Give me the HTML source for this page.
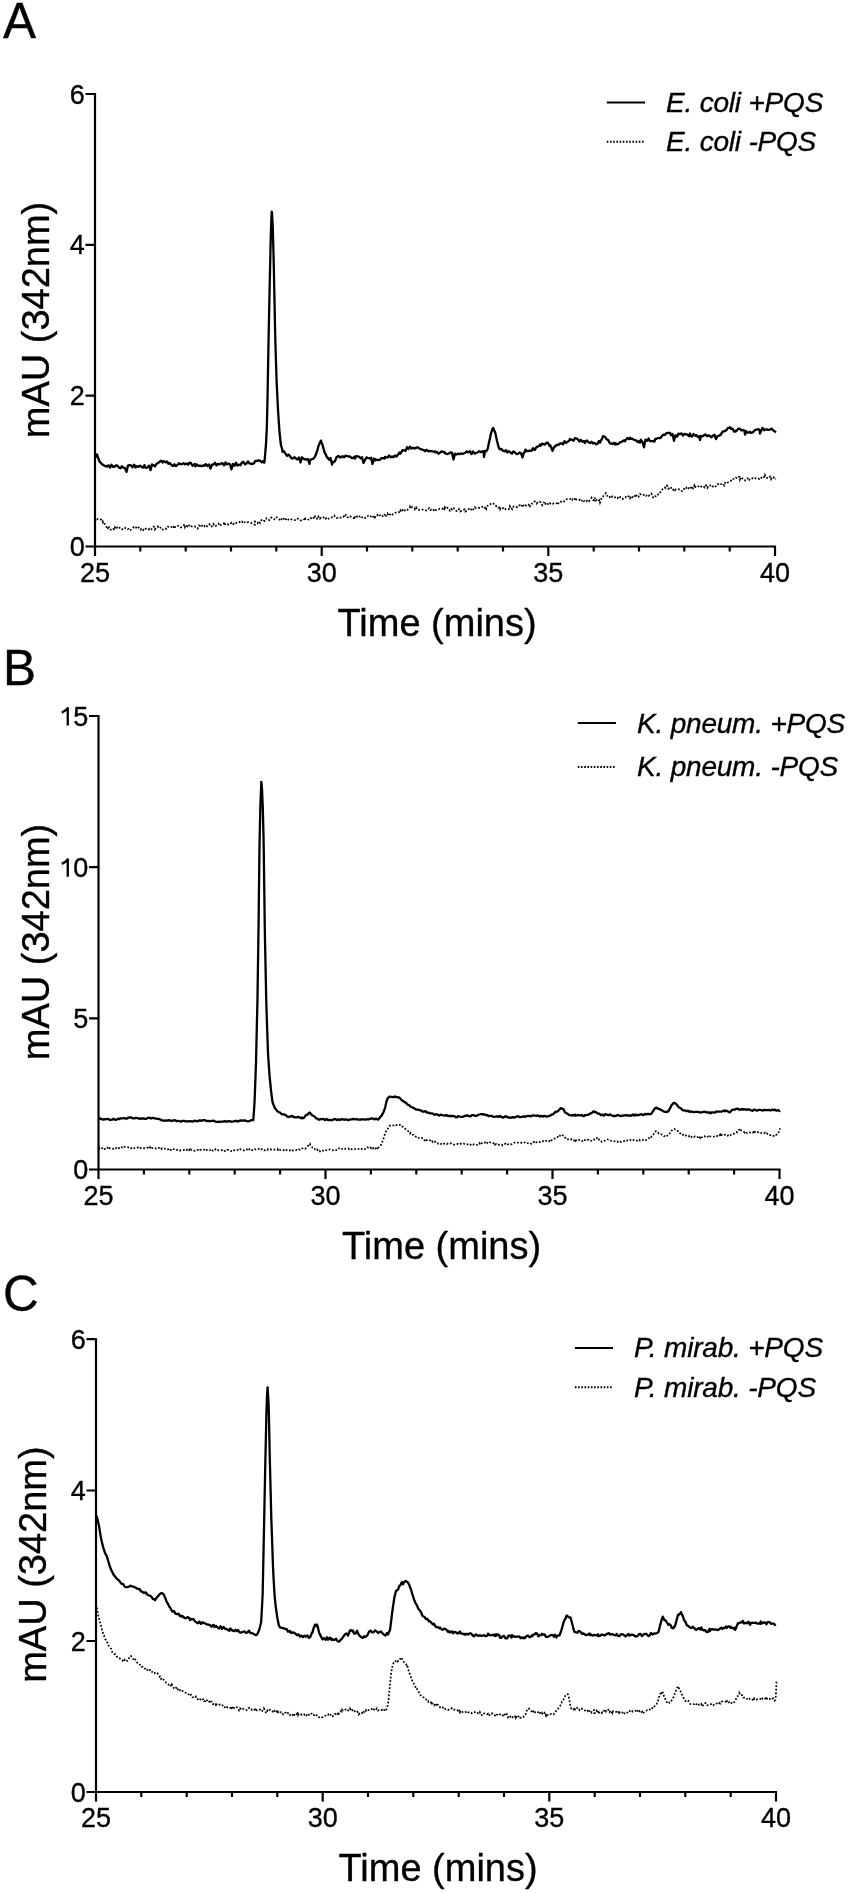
<!DOCTYPE html>
<html><head><meta charset="utf-8"><style>html,body{margin:0;padding:0;background:#fff}svg{display:block;will-change:transform} text{stroke:#000;stroke-width:0.35px}</style></head>
<body><svg width="850" height="1893" viewBox="0 0 850 1893" font-family="'Liberation Sans', sans-serif" fill="#000">
<text x="3" y="37.8" font-size="49.5">A</text>
<path d="M95,93 V547.5 M94,546.5 H776" stroke="#000" stroke-width="2.2" fill="none"/>
<path d="M85.5,546.5 H95 M85.5,395.7 H95 M85.5,244.8 H95 M85.5,94 H95 M95.0,546.5 V556.0 M140.3,546.5 V551.5 M185.7,546.5 V551.5 M231.0,546.5 V551.5 M276.3,546.5 V551.5 M321.7,546.5 V556.0 M367.0,546.5 V551.5 M412.3,546.5 V551.5 M457.7,546.5 V551.5 M503.0,546.5 V551.5 M548.3,546.5 V556.0 M593.7,546.5 V551.5 M639.0,546.5 V551.5 M684.3,546.5 V551.5 M729.7,546.5 V551.5 M775.0,546.5 V556.0" stroke="#000" stroke-width="2.2" fill="none"/>
<text x="84.7" y="556.1" font-size="27" text-anchor="end">0</text>
<text x="84.7" y="405.3" font-size="27" text-anchor="end">2</text>
<text x="84.7" y="254.4" font-size="27" text-anchor="end">4</text>
<text x="84.7" y="103.6" font-size="27" text-anchor="end">6</text>
<text x="95.0" y="581.5" font-size="27" text-anchor="middle">25</text>
<text x="321.7" y="581.5" font-size="27" text-anchor="middle">30</text>
<text x="548.3" y="581.5" font-size="27" text-anchor="middle">35</text>
<text x="775.0" y="581.5" font-size="27" text-anchor="middle">40</text>
<text x="337.5" y="636" font-size="38">Time (mins)</text>
<text transform="translate(48.5,320) rotate(-90)" font-size="38" text-anchor="middle">mAU (342nm)</text>
<path d="M606.8,102.6 H645" stroke="#000" stroke-width="2"/>
<path d="M606.8,141.8 H645" stroke="#000" stroke-width="2" stroke-dasharray="1.6 1.6"/>
<text x="666" y="112.1" font-size="28" letter-spacing="-0.2" font-style="italic">E. coli +PQS</text>
<text x="666" y="151.3" font-size="28" letter-spacing="-0.2" font-style="italic">E. coli -PQS</text>
<path d="M95.0,456.8 L96.5,456.7 L97.0,454.4 L98.0,457.4 L99.5,461.7 L100.0,461.9 L101.0,463.1 L102.5,464.6 L104.0,465.5 L105.0,466.1 L105.5,465.8 L107.0,466.7 L108.5,465.3 L110.0,467.5 L111.5,464.8 L113.0,466.9 L114.5,466.1 L115.0,466.6 L116.0,465.3 L117.5,465.6 L119.0,467.6 L120.5,468.3 L122.0,466.3 L123.5,467.6 L125.0,468.2 L126.5,471.9 L128.0,465.5 L129.5,465.1 L131.0,465.3 L132.5,467.4 L134.0,464.7 L135.0,465.7 L135.5,467.5 L137.0,466.2 L138.5,466.8 L140.0,465.7 L141.5,467.0 L143.0,467.6 L144.5,465.1 L145.0,467.4 L146.0,468.1 L147.5,467.3 L149.0,465.6 L150.5,470.1 L152.0,464.4 L153.5,465.2 L155.0,466.3 L156.5,463.8 L158.0,463.1 L159.5,461.8 L161.0,460.8 L162.5,462.6 L163.0,461.1 L164.0,461.3 L165.5,462.4 L167.0,461.5 L168.5,463.8 L170.0,463.1 L171.5,465.1 L173.0,466.0 L174.5,464.3 L175.0,465.3 L176.0,466.1 L177.5,464.9 L179.0,463.2 L180.5,464.2 L182.0,464.1 L183.5,463.2 L185.0,464.4 L186.5,463.4 L188.0,464.7 L189.5,462.7 L191.0,463.1 L192.5,465.7 L194.0,464.6 L195.0,463.9 L195.5,466.4 L197.0,464.5 L198.5,465.8 L200.0,465.7 L201.5,466.2 L203.0,465.4 L204.5,465.8 L205.0,464.5 L206.0,464.2 L207.5,466.1 L209.0,464.4 L210.5,468.5 L212.0,464.7 L213.5,464.5 L215.0,462.8 L216.5,465.4 L218.0,463.8 L219.5,464.3 L221.0,463.7 L222.5,463.2 L224.0,465.3 L225.0,464.2 L225.5,462.4 L227.0,464.4 L228.5,463.6 L230.0,464.3 L231.5,469.3 L233.0,463.9 L234.5,465.7 L235.0,464.8 L236.0,462.8 L237.5,465.6 L239.0,464.6 L240.5,465.3 L242.0,462.3 L243.5,462.0 L245.0,464.4 L246.5,463.6 L248.0,461.5 L249.5,463.6 L251.0,463.6 L252.5,464.1 L254.0,463.3 L255.0,461.4 L255.5,461.0 L257.0,460.8 L258.5,460.4 L260.0,460.6 L261.5,462.3 L263.0,461.1 L264.2,462.7 L264.5,461.9 L266.0,444.2 L266.8,428.0 L267.5,399.5 L268.5,342.7 L269.0,318.3 L270.0,271.3 L270.5,248.2 L271.0,228.5 L271.7,211.7 L272.0,212.6 L272.8,228.5 L273.5,253.7 L273.9,271.3 L275.0,325.5 L275.4,342.7 L276.5,378.1 L276.8,385.5 L278.0,409.8 L279.2,428.0 L279.5,431.7 L280.6,442.5 L281.0,445.3 L282.0,448.8 L282.5,451.8 L284.0,451.2 L285.0,453.2 L285.5,453.6 L287.0,455.9 L288.5,454.6 L290.0,456.3 L291.5,458.2 L293.0,458.5 L294.5,457.1 L295.0,458.0 L296.0,458.5 L297.5,459.4 L299.0,457.4 L300.5,462.5 L302.0,457.3 L303.5,458.8 L305.0,459.3 L306.5,459.5 L308.0,459.1 L309.5,463.9 L310.0,460.3 L311.0,459.4 L312.5,459.0 L314.0,458.2 L315.5,455.5 L316.5,452.7 L317.0,451.5 L318.5,445.9 L320.0,442.4 L321.0,440.6 L321.5,442.5 L322.5,444.7 L323.0,446.6 L324.5,452.3 L326.0,455.0 L327.0,457.4 L327.5,457.5 L329.0,459.7 L330.0,458.3 L330.5,458.1 L332.0,464.6 L333.0,461.9 L333.5,462.2 L335.0,461.2 L336.5,457.2 L338.0,456.2 L339.5,456.4 L340.0,457.4 L341.0,457.4 L342.5,456.2 L344.0,457.3 L345.0,456.5 L345.5,455.7 L347.0,456.0 L348.5,456.5 L350.0,456.5 L351.5,457.9 L353.0,458.1 L354.5,456.6 L355.0,458.5 L356.0,456.1 L357.5,456.3 L359.0,456.7 L360.5,458.3 L362.0,457.1 L363.5,463.0 L365.0,460.0 L366.5,457.4 L368.0,458.0 L369.5,458.5 L371.0,457.8 L372.5,464.0 L374.0,458.5 L375.0,460.4 L375.5,459.3 L377.0,460.1 L378.5,459.8 L380.0,459.8 L381.5,458.1 L383.0,458.1 L384.5,458.6 L385.0,456.9 L386.0,457.4 L387.5,457.6 L389.0,455.5 L390.5,457.2 L392.0,456.4 L393.5,457.3 L395.0,455.4 L396.5,456.6 L398.0,454.6 L399.5,452.4 L400.0,453.9 L401.0,452.7 L402.5,450.1 L404.0,450.4 L405.0,450.6 L405.5,450.9 L407.0,447.1 L408.5,449.0 L410.0,446.6 L411.5,448.6 L413.0,447.7 L414.5,448.6 L415.0,447.8 L416.0,448.1 L417.5,447.1 L419.0,448.2 L420.0,448.8 L420.5,449.2 L422.0,449.5 L423.5,450.0 L425.0,451.2 L426.5,449.8 L428.0,451.3 L429.5,451.0 L431.0,451.1 L432.5,451.4 L434.0,451.6 L435.0,451.4 L435.5,452.4 L437.0,451.9 L438.5,453.7 L440.0,452.8 L441.5,451.3 L443.0,452.1 L444.5,451.9 L445.0,453.4 L446.0,453.7 L447.5,454.0 L449.0,453.4 L450.5,452.4 L452.0,452.6 L453.5,459.5 L455.0,453.7 L456.5,454.5 L458.0,453.7 L459.5,454.2 L461.0,453.4 L462.5,454.0 L464.0,453.3 L465.0,452.9 L465.5,452.5 L467.0,451.5 L468.5,452.4 L470.0,451.3 L471.5,454.1 L473.0,451.5 L474.5,453.4 L475.0,453.6 L476.0,453.0 L477.5,452.5 L479.0,451.2 L480.5,452.1 L482.0,451.7 L483.5,451.2 L484.0,457.0 L485.0,451.0 L486.5,451.0 L487.5,449.3 L488.0,447.2 L489.5,440.3 L490.0,438.0 L491.0,433.3 L492.0,430.5 L492.5,428.6 L493.3,428.0 L494.0,430.1 L495.0,431.9 L495.5,433.8 L497.0,441.0 L498.5,446.7 L499.5,449.0 L500.0,449.3 L501.5,449.0 L503.0,450.9 L504.5,451.0 L505.0,451.5 L506.0,450.1 L507.5,452.5 L509.0,451.2 L510.5,452.5 L512.0,453.6 L513.5,451.4 L515.0,452.4 L516.5,454.1 L518.0,453.8 L519.5,452.5 L521.0,453.2 L522.5,457.5 L524.0,452.3 L525.0,452.1 L525.5,449.6 L527.0,451.1 L528.5,451.1 L530.0,450.5 L531.5,450.9 L533.0,448.1 L534.5,450.0 L535.0,449.7 L536.0,447.7 L537.5,446.5 L539.0,446.1 L540.0,444.5 L540.5,445.7 L542.0,443.7 L543.5,444.2 L545.0,444.6 L546.5,442.7 L548.0,443.0 L549.5,446.1 L550.0,445.1 L551.0,446.8 L552.5,450.8 L554.0,447.5 L555.0,446.1 L555.5,446.1 L557.0,444.6 L558.5,445.0 L560.0,443.5 L561.5,443.3 L563.0,444.3 L564.5,441.2 L565.0,442.0 L566.0,443.0 L567.5,441.7 L569.0,441.0 L570.0,439.0 L570.5,439.7 L572.0,439.7 L573.5,440.7 L575.0,438.1 L576.5,438.5 L578.0,439.4 L579.5,441.6 L580.0,440.9 L581.0,439.9 L582.5,441.7 L584.0,441.0 L585.0,443.0 L585.5,441.4 L587.0,440.5 L588.5,442.3 L590.0,443.1 L591.5,441.8 L593.0,443.4 L594.5,443.0 L595.0,443.1 L596.0,444.4 L597.5,443.7 L599.0,440.9 L600.0,442.7 L600.5,441.4 L602.0,438.9 L603.0,436.1 L603.5,436.4 L605.0,436.8 L606.5,439.2 L608.0,439.9 L609.5,442.6 L610.0,443.4 L611.0,443.3 L612.5,444.0 L614.0,442.8 L615.0,444.5 L615.5,443.2 L617.0,444.4 L618.5,443.8 L620.0,442.3 L621.5,441.8 L623.0,440.9 L624.5,440.2 L625.0,441.2 L626.0,439.5 L627.5,438.0 L629.0,439.2 L630.0,437.8 L630.5,438.9 L632.0,438.6 L633.5,439.5 L635.0,440.2 L636.5,440.6 L638.0,442.1 L639.5,441.0 L640.0,442.6 L641.0,439.8 L642.5,442.2 L644.0,447.3 L645.0,441.7 L645.5,439.7 L647.0,440.9 L648.5,438.5 L650.0,441.2 L651.5,441.2 L653.0,441.1 L654.5,441.6 L655.0,439.2 L656.0,439.0 L657.5,438.2 L659.0,438.1 L660.0,438.2 L660.5,438.0 L662.0,435.9 L663.5,434.7 L665.0,434.8 L666.5,433.2 L668.0,432.9 L669.5,432.9 L670.0,432.8 L671.0,435.3 L672.5,434.0 L674.0,440.8 L675.0,437.0 L675.5,435.3 L677.0,436.8 L678.5,433.7 L680.0,434.1 L681.5,433.4 L683.0,435.5 L684.5,433.9 L686.0,434.3 L687.5,434.7 L689.0,436.3 L690.0,433.5 L690.5,435.7 L692.0,436.5 L693.5,433.9 L695.0,435.7 L696.5,435.2 L698.0,437.1 L699.5,436.2 L700.0,440.0 L701.0,435.8 L702.5,436.4 L704.0,435.3 L705.5,434.4 L707.0,436.2 L708.5,435.4 L710.0,436.1 L711.5,437.3 L713.0,435.5 L714.5,434.7 L716.0,439.1 L717.5,436.1 L719.0,435.7 L720.0,435.1 L720.5,435.2 L722.0,432.4 L723.5,431.3 L725.0,431.0 L726.5,430.0 L728.0,427.9 L729.5,427.9 L730.0,427.2 L731.0,428.8 L732.5,428.7 L734.0,431.6 L735.0,430.6 L735.5,431.6 L737.0,430.3 L738.5,428.6 L740.0,428.8 L741.5,430.4 L743.0,430.2 L744.5,430.7 L745.0,434.7 L746.0,431.1 L747.5,432.7 L749.0,432.4 L750.0,431.7 L750.5,432.9 L752.0,432.7 L753.5,431.7 L755.0,429.9 L756.5,429.8 L758.0,429.1 L759.5,429.7 L760.0,433.7 L761.0,430.9 L762.5,427.9 L764.0,430.2 L765.0,429.5 L765.5,429.7 L767.0,429.3 L768.5,429.8 L770.0,429.6 L771.5,428.6 L773.0,430.2 L774.5,431.2 L776.0,432.5" stroke="#000" stroke-width="2.3" fill="none" stroke-linejoin="round"/>
<path d="M95.0,521.9 L96.3,518.9 L97.6,519.2 L98.0,518.8 L98.9,518.9 L100.2,519.2 L101.5,519.9 L102.8,522.2 L103.0,521.4 L104.1,522.7 L105.4,525.4 L106.7,527.1 L108.0,526.8 L108.0,528.0 L109.3,527.2 L110.6,529.6 L111.9,530.0 L113.2,528.9 L114.5,530.2 L115.0,527.6 L115.8,529.0 L117.1,527.5 L118.4,528.8 L119.7,527.6 L121.0,527.7 L122.3,529.3 L123.6,528.1 L124.9,527.7 L125.0,528.0 L126.2,528.6 L127.5,529.4 L128.8,528.8 L130.0,530.5 L131.4,529.4 L132.7,528.3 L134.0,526.9 L135.0,528.0 L136.6,527.4 L137.9,526.3 L139.2,528.4 L140.5,529.7 L141.8,528.5 L143.1,530.1 L144.4,528.4 L145.0,529.2 L145.7,528.7 L147.0,528.7 L148.3,529.7 L149.6,528.7 L150.9,529.9 L152.2,528.3 L153.5,526.6 L154.8,527.5 L155.0,529.2 L156.1,527.7 L157.4,526.4 L158.7,527.1 L160.0,526.5 L161.3,529.7 L162.6,529.6 L163.9,529.0 L165.0,528.3 L166.5,528.9 L167.8,526.7 L169.1,527.0 L170.4,527.7 L171.7,526.9 L173.0,525.7 L174.3,528.7 L175.0,526.8 L175.6,527.0 L176.9,526.2 L178.2,525.8 L179.5,526.1 L180.8,527.4 L182.1,526.9 L183.4,525.6 L184.7,524.3 L185.0,527.0 L186.0,525.2 L187.3,526.4 L188.6,524.7 L189.9,527.0 L191.2,526.3 L192.5,526.8 L193.8,526.7 L195.0,526.5 L196.4,527.1 L197.7,528.5 L199.0,525.4 L200.3,526.0 L201.6,524.9 L202.9,527.1 L204.2,526.6 L205.0,525.0 L205.5,525.7 L206.8,526.3 L208.1,526.2 L209.4,524.4 L210.7,526.7 L212.0,526.2 L213.3,523.9 L214.6,526.3 L215.0,525.8 L215.9,525.9 L217.2,524.9 L218.5,523.7 L219.8,525.9 L221.1,524.6 L222.4,523.7 L223.7,523.3 L225.0,525.4 L225.0,523.7 L226.3,524.1 L227.6,524.2 L228.9,524.9 L230.2,524.2 L231.5,522.6 L232.8,524.0 L234.1,523.6 L235.0,523.8 L235.4,524.3 L236.7,522.6 L238.0,522.3 L239.3,522.0 L240.6,522.4 L241.9,521.4 L243.2,523.5 L244.5,522.3 L245.0,521.9 L245.8,521.6 L247.1,522.3 L248.4,522.0 L249.7,522.3 L251.0,522.9 L252.3,523.2 L253.6,524.2 L254.9,524.7 L255.0,521.5 L256.2,522.0 L257.5,523.1 L258.8,521.0 L260.1,522.9 L261.4,520.1 L262.7,521.4 L264.0,520.7 L265.0,521.0 L266.6,518.2 L267.9,518.7 L269.2,520.1 L270.5,517.9 L271.8,517.5 L273.1,518.6 L274.4,519.3 L275.0,517.5 L275.7,517.5 L277.0,517.4 L278.3,518.6 L279.6,519.6 L280.9,518.0 L282.2,520.3 L283.5,518.8 L284.8,519.4 L285.0,518.3 L286.1,519.4 L287.4,520.7 L288.7,519.1 L290.0,518.5 L291.3,519.4 L292.6,519.7 L293.9,520.0 L295.0,520.1 L296.5,518.4 L297.8,518.7 L299.1,519.6 L300.4,520.3 L301.7,520.3 L303.0,520.2 L304.3,519.1 L305.0,520.6 L305.6,518.4 L306.9,518.7 L308.2,519.5 L309.5,519.7 L310.8,518.0 L312.1,519.3 L313.4,517.9 L314.7,518.7 L315.0,516.3 L316.0,516.4 L317.3,519.5 L318.6,516.6 L319.9,518.6 L321.2,517.3 L322.5,517.0 L323.8,517.6 L325.0,519.4 L326.4,518.2 L327.7,519.3 L329.0,518.4 L330.3,517.6 L331.6,517.4 L332.9,516.3 L334.2,515.4 L335.0,516.7 L335.5,517.2 L336.8,518.1 L338.1,517.2 L339.4,517.6 L340.7,517.7 L342.0,517.7 L343.3,517.1 L344.6,514.7 L345.0,515.5 L345.9,515.0 L347.2,517.4 L348.5,517.3 L349.8,516.0 L351.1,516.9 L352.4,517.9 L353.7,518.1 L355.0,516.0 L355.0,517.8 L356.3,518.0 L357.6,515.4 L358.9,515.7 L360.2,516.8 L361.5,516.1 L362.8,518.3 L364.1,517.7 L365.0,517.7 L365.4,517.9 L366.7,516.4 L368.0,515.9 L369.3,517.1 L370.6,516.3 L371.9,517.9 L373.2,516.7 L374.5,515.7 L375.0,517.2 L375.8,515.5 L377.1,514.7 L378.4,516.6 L379.7,515.4 L381.0,514.6 L382.3,515.9 L383.6,516.8 L384.9,514.1 L385.0,516.0 L386.2,515.8 L387.5,513.5 L388.8,515.8 L390.1,514.5 L391.4,513.2 L392.7,514.5 L394.0,513.5 L395.0,512.9 L396.6,512.1 L397.9,511.9 L399.2,512.1 L400.0,512.5 L400.5,510.4 L401.8,512.0 L403.1,509.4 L404.4,509.1 L405.0,510.7 L405.7,511.0 L407.0,510.6 L408.3,508.9 L409.6,507.9 L410.0,506.6 L410.9,508.2 L412.2,506.9 L413.5,508.0 L414.8,508.4 L415.0,509.1 L416.1,507.4 L417.4,509.8 L418.7,509.9 L420.0,509.5 L421.3,509.2 L422.6,509.5 L423.9,510.2 L425.0,510.5 L426.5,510.4 L427.8,509.8 L429.1,508.1 L430.4,510.1 L431.7,509.3 L433.0,508.8 L434.3,511.3 L435.0,511.1 L435.6,510.1 L436.9,509.8 L438.2,509.7 L439.5,508.8 L440.8,509.0 L442.1,509.0 L443.4,507.4 L444.7,510.3 L445.0,507.4 L446.0,508.6 L447.3,507.7 L448.6,508.1 L449.9,510.7 L451.2,508.9 L452.5,510.2 L453.8,508.3 L455.0,508.8 L456.4,511.0 L457.7,511.1 L459.0,509.1 L460.3,511.5 L461.6,510.5 L462.9,510.0 L464.2,509.6 L465.0,509.4 L465.5,511.5 L466.8,510.6 L468.1,510.0 L469.4,508.1 L470.7,508.7 L472.0,510.9 L473.3,509.4 L474.6,508.6 L475.0,507.3 L475.9,508.1 L477.2,508.0 L478.5,507.6 L479.8,508.1 L481.1,507.5 L482.4,506.9 L483.7,506.8 L485.0,508.0 L485.0,506.5 L486.3,508.9 L487.6,505.7 L488.9,505.4 L490.2,504.3 L491.5,503.3 L492.0,503.4 L492.8,503.1 L494.1,504.0 L495.4,504.4 L496.7,507.1 L498.0,507.9 L499.3,507.3 L500.0,509.3 L500.6,507.6 L501.9,508.4 L503.2,508.1 L504.5,507.4 L505.8,509.5 L507.1,509.2 L508.4,509.2 L509.7,509.5 L510.0,506.3 L511.0,507.9 L512.3,509.3 L513.6,506.3 L514.9,506.3 L516.2,506.9 L517.5,507.1 L518.8,505.6 L520.0,505.3 L521.4,506.8 L522.7,504.1 L524.0,506.6 L525.3,505.3 L526.6,505.9 L527.9,506.0 L529.2,503.8 L530.0,506.4 L530.5,506.0 L531.8,503.9 L533.1,502.6 L534.4,501.4 L535.7,501.6 L537.0,502.7 L537.0,503.1 L538.3,501.6 L539.6,501.5 L540.9,502.4 L542.2,505.0 L543.5,502.4 L544.8,502.8 L545.0,504.7 L546.1,502.8 L547.4,503.2 L548.7,505.0 L550.0,503.3 L551.3,504.3 L552.6,504.2 L553.9,503.2 L555.0,503.1 L556.5,503.2 L557.8,504.9 L559.1,501.7 L560.4,501.5 L561.7,501.8 L563.0,500.9 L564.3,501.5 L565.0,501.1 L565.6,500.7 L566.9,499.1 L568.2,498.8 L569.5,499.0 L570.0,499.1 L570.8,498.2 L572.1,499.8 L573.4,497.9 L574.7,498.8 L575.0,500.8 L576.0,499.6 L577.3,499.4 L578.6,500.2 L579.9,499.6 L581.2,501.4 L582.5,499.6 L583.8,501.1 L585.0,500.3 L586.4,501.3 L587.7,499.8 L589.0,501.2 L590.3,499.7 L591.6,497.7 L592.9,499.9 L594.2,500.2 L595.0,497.6 L595.5,500.6 L596.8,499.8 L598.1,501.2 L599.4,500.0 L600.0,502.5 L600.7,500.5 L602.0,496.8 L603.0,496.5 L604.6,494.5 L605.0,494.4 L605.9,493.1 L607.2,495.7 L608.5,497.6 L609.8,497.0 L610.0,498.1 L611.1,497.7 L612.4,496.5 L613.7,497.7 L615.0,497.4 L616.3,496.9 L617.6,498.1 L618.9,496.0 L620.0,497.1 L621.5,497.2 L622.8,499.0 L624.1,497.9 L625.4,497.5 L626.7,495.7 L628.0,496.4 L629.3,496.0 L630.0,497.9 L630.6,496.2 L631.9,497.4 L633.2,496.6 L634.5,497.2 L635.8,494.1 L637.1,497.1 L638.4,497.0 L639.7,494.2 L640.0,493.8 L641.0,494.6 L642.3,495.3 L643.6,494.9 L644.9,494.5 L646.2,495.9 L647.5,494.6 L648.8,495.8 L650.0,494.6 L651.4,493.6 L652.7,497.0 L654.0,497.9 L655.0,496.2 L656.6,496.5 L657.9,494.8 L659.2,492.2 L660.0,492.4 L660.5,492.1 L661.8,490.2 L663.1,488.3 L664.4,487.4 L665.0,487.6 L665.7,487.9 L667.0,485.7 L668.3,488.8 L669.6,487.6 L670.0,488.6 L670.9,487.9 L672.2,487.5 L673.5,490.2 L674.8,489.5 L675.0,490.2 L676.1,489.2 L677.4,488.9 L678.7,489.1 L680.0,490.8 L681.3,491.0 L682.6,491.0 L683.9,488.9 L685.0,489.9 L686.5,487.6 L687.8,489.2 L689.1,487.8 L690.4,488.8 L691.7,486.3 L693.0,488.2 L694.3,485.5 L695.0,488.1 L695.6,486.6 L696.9,485.7 L698.2,486.2 L699.5,487.6 L700.8,486.7 L702.1,486.0 L703.4,486.0 L704.7,487.6 L705.0,487.4 L706.0,485.4 L707.3,487.9 L708.6,485.5 L709.9,485.7 L711.2,484.7 L712.5,486.2 L713.8,487.2 L715.0,487.3 L716.4,485.5 L717.7,484.0 L719.0,485.1 L720.3,484.2 L721.6,484.0 L722.9,483.5 L724.2,485.5 L725.0,483.4 L725.5,481.8 L726.8,482.6 L728.1,482.3 L729.4,481.8 L730.0,481.4 L730.7,481.0 L732.0,478.8 L733.3,479.0 L734.6,479.0 L735.9,477.6 L737.2,478.4 L738.5,477.1 L739.8,477.0 L740.0,479.5 L741.1,477.3 L742.4,478.5 L743.7,479.1 L745.0,480.4 L746.3,478.4 L747.6,478.2 L748.9,480.6 L750.0,478.7 L751.5,478.6 L752.8,478.1 L754.1,479.0 L755.4,478.2 L756.7,478.4 L758.0,478.2 L759.3,478.9 L760.0,478.2 L760.6,478.8 L761.9,476.9 L763.2,476.2 L764.5,478.0 L765.0,475.4 L765.8,477.3 L767.1,477.8 L768.4,478.4 L769.7,477.1 L770.0,476.7 L771.0,479.2 L772.3,476.9 L773.6,477.3 L774.9,479.4 L776.0,478.9" stroke="#000" stroke-width="1.7" fill="none" stroke-dasharray="1.8 1.8"/>
<text x="3" y="685.3" font-size="49.5">B</text>
<path d="M98.5,715 V1170.5 M97.5,1169.5 H780.5" stroke="#000" stroke-width="2.2" fill="none"/>
<path d="M89.0,1169.5 H98.5 M89.0,1018.3 H98.5 M89.0,867.2 H98.5 M89.0,716 H98.5 M98.5,1169.5 V1179.0 M143.9,1169.5 V1174.5 M189.3,1169.5 V1174.5 M234.7,1169.5 V1174.5 M280.1,1169.5 V1174.5 M325.5,1169.5 V1179.0 M370.9,1169.5 V1174.5 M416.3,1169.5 V1174.5 M461.7,1169.5 V1174.5 M507.1,1169.5 V1174.5 M552.5,1169.5 V1179.0 M597.9,1169.5 V1174.5 M643.3,1169.5 V1174.5 M688.7,1169.5 V1174.5 M734.1,1169.5 V1174.5 M779.5,1169.5 V1179.0" stroke="#000" stroke-width="2.2" fill="none"/>
<text x="88.2" y="1179.1" font-size="27" text-anchor="end">0</text>
<text x="88.2" y="1027.8999999999999" font-size="27" text-anchor="end">5</text>
<text x="88.2" y="876.8000000000001" font-size="27" text-anchor="end">0</text>
<path d="M67.76,876.8000000000001 V858.67 M68.46,858.67 C66.56,861.07 64.18,862.67 61.78,863.87" stroke="#000" stroke-width="2.3" fill="none"/>
<text x="88.2" y="725.6" font-size="27" text-anchor="end">5</text>
<path d="M67.76,725.6 V707.47 M68.46,707.47 C66.56,709.87 64.18,711.47 61.78,712.67" stroke="#000" stroke-width="2.3" fill="none"/>
<text x="98.5" y="1204.5" font-size="27" text-anchor="middle">25</text>
<text x="325.5" y="1204.5" font-size="27" text-anchor="middle">30</text>
<text x="552.5" y="1204.5" font-size="27" text-anchor="middle">35</text>
<text x="779.5" y="1204.5" font-size="27" text-anchor="middle">40</text>
<text x="342" y="1259" font-size="38">Time (mins)</text>
<text transform="translate(48.5,942) rotate(-90)" font-size="38" text-anchor="middle">mAU (342nm)</text>
<path d="M577.8,723.1 H615.9" stroke="#000" stroke-width="2"/>
<path d="M577.8,766.9 H615.9" stroke="#000" stroke-width="2" stroke-dasharray="1.6 1.6"/>
<text x="637" y="732.6" font-size="28" letter-spacing="-0.2" font-style="italic">K. pneum. +PQS</text>
<text x="637" y="776.4" font-size="28" letter-spacing="-0.2" font-style="italic">K. pneum. -PQS</text>
<path d="M98.5,1118.6 L100.0,1118.4 L101.5,1119.1 L103.0,1119.6 L104.5,1119.2 L106.0,1119.3 L107.5,1118.7 L109.0,1119.4 L110.0,1120.0 L110.5,1119.9 L112.0,1119.7 L113.5,1118.8 L115.0,1119.8 L116.5,1119.7 L118.0,1118.7 L119.5,1119.2 L120.0,1118.3 L121.0,1118.4 L122.5,1118.4 L124.0,1118.0 L125.5,1118.6 L127.0,1118.5 L128.0,1117.8 L128.5,1117.7 L130.0,1117.5 L131.5,1117.5 L133.0,1118.4 L134.5,1118.4 L136.0,1117.7 L137.5,1118.3 L139.0,1118.3 L140.0,1118.9 L140.5,1118.7 L142.0,1118.5 L143.5,1118.3 L145.0,1118.8 L146.5,1118.7 L148.0,1117.8 L149.5,1117.7 L151.0,1118.6 L152.5,1117.8 L154.0,1118.4 L155.5,1118.3 L157.0,1118.9 L158.5,1118.8 L160.0,1119.3 L161.5,1120.2 L163.0,1120.6 L164.5,1120.7 L166.0,1120.5 L167.5,1120.7 L168.0,1120.4 L169.0,1120.2 L170.5,1120.6 L172.0,1121.1 L173.5,1120.3 L175.0,1120.2 L176.5,1121.3 L178.0,1120.7 L179.5,1121.3 L180.0,1121.3 L181.0,1121.6 L182.5,1120.9 L184.0,1120.8 L185.5,1121.4 L187.0,1121.4 L188.5,1121.2 L190.0,1121.4 L191.5,1121.2 L193.0,1121.6 L194.5,1120.6 L196.0,1121.1 L197.5,1121.3 L199.0,1120.4 L200.0,1120.8 L200.5,1120.4 L202.0,1120.6 L203.5,1120.1 L205.0,1120.1 L206.5,1121.2 L208.0,1120.8 L209.5,1121.2 L210.0,1121.3 L211.0,1120.9 L212.5,1120.9 L214.0,1120.7 L215.5,1121.7 L217.0,1121.8 L218.5,1121.7 L220.0,1121.9 L221.5,1121.6 L223.0,1121.7 L224.5,1121.0 L226.0,1121.8 L227.5,1121.2 L229.0,1121.3 L230.0,1121.1 L230.5,1121.5 L232.0,1121.6 L233.5,1121.4 L235.0,1121.0 L236.5,1120.8 L238.0,1121.6 L239.5,1120.7 L240.0,1120.9 L241.0,1120.4 L242.5,1120.6 L244.0,1120.3 L245.5,1120.6 L247.0,1121.1 L248.5,1121.4 L250.0,1120.8 L251.5,1120.1 L253.0,1120.2 L253.3,1120.0 L254.5,1103.3 L255.6,1074.0 L256.0,1062.1 L257.5,998.0 L258.6,922.0 L259.0,886.9 L259.5,846.0 L260.3,808.0 L261.3,781.8 L262.0,789.1 L262.8,808.0 L263.5,835.6 L263.7,846.0 L264.7,922.0 L265.0,939.9 L266.2,998.0 L266.5,1009.2 L268.0,1053.1 L268.1,1055.0 L269.5,1075.2 L271.0,1090.3 L271.3,1093.0 L272.5,1102.0 L274.0,1106.1 L275.1,1108.4 L275.5,1108.7 L277.0,1110.9 L278.5,1112.0 L280.0,1112.6 L281.5,1114.0 L283.0,1114.3 L283.6,1114.5 L284.5,1114.4 L286.0,1115.2 L287.0,1116.6 L287.5,1116.7 L289.0,1117.0 L290.5,1116.3 L292.0,1116.0 L293.5,1116.9 L295.0,1117.3 L296.5,1117.4 L298.0,1116.9 L299.5,1117.4 L301.0,1118.2 L302.0,1117.4 L302.5,1118.4 L304.0,1117.8 L305.5,1115.7 L306.0,1115.0 L307.0,1115.2 L308.5,1113.4 L309.5,1112.5 L310.0,1112.7 L311.5,1114.7 L313.0,1115.8 L314.5,1116.6 L316.0,1118.3 L317.5,1118.6 L318.0,1119.3 L319.0,1119.8 L320.5,1119.1 L322.0,1119.1 L323.5,1118.9 L325.0,1120.1 L326.5,1119.0 L328.0,1120.2 L329.5,1119.9 L331.0,1120.2 L332.5,1120.0 L334.0,1119.2 L335.5,1119.1 L337.0,1120.2 L338.5,1119.3 L340.0,1120.0 L341.5,1119.1 L343.0,1119.3 L344.5,1119.8 L346.0,1119.2 L347.5,1120.0 L349.0,1120.1 L350.5,1119.3 L352.0,1119.3 L353.5,1118.9 L355.0,1119.5 L356.5,1119.0 L358.0,1119.6 L359.5,1119.7 L361.0,1119.5 L362.5,1119.4 L364.0,1119.4 L365.5,1119.7 L367.0,1119.1 L368.5,1119.5 L370.0,1118.8 L371.5,1118.5 L373.0,1118.6 L374.5,1119.4 L376.0,1118.6 L377.5,1119.4 L378.0,1119.6 L379.0,1118.7 L380.5,1116.7 L382.0,1115.1 L383.5,1112.0 L385.0,1108.1 L386.5,1101.6 L387.0,1099.8 L388.0,1097.9 L389.0,1097.0 L389.5,1096.6 L391.0,1096.8 L392.5,1097.2 L394.0,1097.0 L395.0,1096.4 L395.5,1096.9 L397.0,1097.2 L398.5,1097.7 L399.0,1097.3 L400.0,1098.1 L401.5,1100.0 L403.0,1101.0 L404.5,1102.2 L405.0,1102.3 L406.0,1102.7 L407.5,1104.6 L409.0,1105.0 L410.0,1106.1 L410.5,1106.5 L412.0,1107.3 L413.5,1107.9 L415.0,1108.8 L416.5,1109.7 L418.0,1109.7 L419.5,1110.2 L421.0,1110.5 L422.0,1110.8 L422.5,1111.6 L424.0,1111.6 L425.5,1111.2 L427.0,1112.6 L428.5,1112.6 L430.0,1113.4 L431.5,1113.4 L433.0,1113.6 L434.5,1114.8 L436.0,1114.2 L437.5,1114.6 L438.0,1115.0 L439.0,1115.6 L440.5,1114.7 L442.0,1115.1 L443.5,1115.4 L445.0,1115.7 L446.5,1114.9 L448.0,1116.0 L449.5,1115.8 L451.0,1116.0 L452.5,1116.0 L454.0,1116.1 L455.5,1117.0 L457.0,1117.3 L458.0,1116.1 L458.5,1116.2 L460.0,1116.8 L461.5,1116.8 L463.0,1116.8 L464.5,1116.0 L466.0,1115.7 L467.5,1115.4 L468.0,1115.8 L469.0,1116.0 L470.5,1116.4 L472.0,1115.1 L473.5,1115.1 L475.0,1115.9 L476.5,1115.8 L478.0,1114.9 L479.5,1114.5 L481.0,1114.0 L482.5,1114.6 L483.0,1114.1 L484.0,1114.1 L485.5,1115.2 L487.0,1115.0 L488.5,1116.2 L490.0,1115.8 L491.5,1115.8 L493.0,1116.7 L494.5,1116.9 L496.0,1116.5 L497.5,1116.4 L499.0,1116.9 L500.0,1116.0 L500.5,1116.3 L502.0,1117.3 L503.5,1117.5 L505.0,1116.4 L506.5,1116.5 L508.0,1117.7 L509.5,1117.3 L510.0,1117.8 L511.0,1117.6 L512.5,1117.2 L514.0,1117.5 L515.5,1117.2 L517.0,1116.2 L518.5,1116.7 L520.0,1117.1 L521.5,1116.9 L523.0,1116.6 L524.5,1116.4 L526.0,1116.6 L527.5,1115.8 L529.0,1115.9 L530.0,1116.2 L530.5,1116.4 L532.0,1115.7 L533.5,1115.5 L535.0,1115.7 L536.5,1115.9 L538.0,1115.4 L539.5,1116.2 L540.0,1116.6 L541.0,1115.8 L542.5,1116.6 L544.0,1115.9 L545.5,1116.1 L547.0,1116.7 L548.0,1116.3 L548.5,1116.0 L550.0,1115.9 L551.5,1114.7 L553.0,1114.3 L554.5,1112.8 L556.0,1111.7 L557.5,1111.5 L558.0,1111.0 L559.0,1110.1 L560.5,1108.2 L562.0,1108.6 L563.5,1109.3 L565.0,1112.5 L566.5,1113.3 L568.0,1114.1 L569.5,1115.2 L571.0,1115.4 L572.5,1115.1 L574.0,1115.6 L575.0,1114.5 L575.5,1115.5 L577.0,1115.3 L578.5,1115.0 L580.0,1115.5 L581.5,1114.9 L583.0,1116.0 L584.5,1115.8 L585.0,1115.0 L586.0,1115.1 L587.5,1114.8 L589.0,1114.4 L590.0,1113.6 L590.5,1113.5 L592.0,1112.7 L593.5,1111.2 L594.0,1112.0 L595.0,1111.8 L596.5,1112.6 L598.0,1113.7 L599.5,1113.7 L601.0,1115.2 L602.5,1114.4 L603.0,1115.1 L604.0,1115.6 L605.5,1114.2 L607.0,1114.7 L608.0,1115.1 L608.5,1115.1 L610.0,1114.4 L611.5,1115.2 L613.0,1116.0 L614.5,1115.8 L615.0,1116.1 L616.0,1115.9 L617.5,1115.0 L619.0,1115.4 L620.5,1116.2 L622.0,1115.6 L623.5,1115.5 L625.0,1115.3 L626.5,1115.1 L628.0,1115.7 L629.5,1115.3 L631.0,1115.8 L632.5,1114.5 L634.0,1115.6 L635.0,1114.4 L635.5,1115.4 L637.0,1114.8 L638.5,1115.1 L640.0,1114.6 L641.5,1114.1 L643.0,1115.1 L644.5,1114.5 L645.0,1113.9 L646.0,1114.4 L647.5,1113.8 L649.0,1114.0 L650.5,1114.1 L651.0,1114.1 L652.0,1112.6 L653.0,1111.1 L653.5,1110.6 L655.0,1108.2 L656.0,1108.0 L656.5,1107.7 L658.0,1108.7 L659.5,1109.2 L660.0,1109.3 L661.0,1110.0 L662.5,1110.7 L664.0,1111.6 L665.5,1111.9 L667.0,1112.0 L668.0,1111.0 L668.5,1111.3 L670.0,1108.4 L671.5,1105.2 L672.0,1104.9 L673.0,1103.5 L674.0,1102.8 L674.5,1103.1 L676.0,1103.8 L677.5,1105.5 L678.0,1106.5 L679.0,1107.2 L680.5,1108.2 L682.0,1109.5 L683.0,1110.3 L683.5,1110.3 L685.0,1110.5 L686.5,1111.3 L688.0,1110.6 L689.5,1111.9 L690.0,1111.7 L691.0,1111.3 L692.5,1111.8 L694.0,1112.2 L695.5,1111.8 L697.0,1111.9 L698.5,1112.0 L700.0,1112.4 L701.5,1112.5 L703.0,1111.8 L704.5,1111.6 L706.0,1112.2 L707.5,1112.5 L709.0,1112.4 L710.0,1112.7 L710.5,1113.4 L712.0,1112.3 L713.5,1112.3 L715.0,1112.7 L716.5,1111.5 L718.0,1111.6 L719.5,1111.6 L721.0,1111.6 L722.5,1111.4 L724.0,1110.4 L725.0,1111.3 L725.5,1110.7 L727.0,1110.9 L728.5,1111.7 L729.0,1112.1 L730.0,1112.4 L731.5,1110.5 L733.0,1109.6 L734.5,1109.7 L735.0,1109.7 L736.0,1108.8 L737.5,1108.6 L739.0,1109.5 L740.5,1109.8 L742.0,1108.9 L743.5,1109.6 L745.0,1109.2 L746.5,1109.9 L748.0,1109.4 L749.5,1109.5 L751.0,1110.2 L752.5,1110.9 L754.0,1109.6 L755.0,1109.7 L755.5,1109.9 L757.0,1110.7 L758.5,1109.9 L760.0,1109.9 L761.5,1110.1 L763.0,1110.6 L764.5,1109.8 L765.0,1110.1 L766.0,1110.1 L767.5,1110.1 L769.0,1110.0 L770.5,1110.5 L772.0,1109.7 L773.5,1110.2 L775.0,1109.7 L776.5,1110.7 L778.0,1110.1 L779.5,1111.0 L780.0,1110.5" stroke="#000" stroke-width="2.3" fill="none" stroke-linejoin="round"/>
<path d="M98.5,1147.4 L99.8,1148.6 L101.1,1147.8 L102.4,1148.4 L103.7,1147.6 L105.0,1149.2 L106.3,1149.3 L107.6,1147.7 L108.9,1149.4 L110.0,1147.9 L111.5,1148.2 L112.8,1148.7 L114.1,1149.2 L115.4,1149.0 L116.7,1147.3 L118.0,1148.2 L119.3,1148.1 L120.0,1148.0 L120.6,1148.5 L121.9,1147.3 L123.2,1148.3 L124.5,1146.9 L125.8,1147.0 L127.1,1147.0 L128.4,1147.3 L129.7,1147.9 L130.0,1147.5 L131.0,1148.2 L132.3,1147.2 L133.6,1148.0 L134.9,1148.0 L136.2,1147.3 L137.5,1147.3 L138.8,1148.5 L140.0,1147.8 L141.4,1148.4 L142.7,1148.1 L144.0,1148.3 L145.3,1147.6 L146.6,1147.7 L147.9,1147.7 L149.2,1148.8 L150.0,1147.4 L150.5,1148.9 L151.8,1148.0 L153.1,1148.1 L154.4,1148.4 L155.7,1148.4 L157.0,1148.7 L158.3,1148.0 L159.6,1148.2 L160.0,1149.4 L160.9,1149.3 L162.2,1148.3 L163.5,1148.8 L164.8,1148.7 L166.1,1148.4 L167.4,1149.3 L168.7,1149.2 L170.0,1148.6 L170.0,1149.5 L171.3,1150.0 L172.6,1148.8 L173.9,1149.2 L175.2,1150.0 L176.5,1149.8 L177.8,1149.9 L179.1,1149.9 L180.0,1150.7 L180.4,1150.2 L181.7,1150.3 L183.0,1150.1 L184.3,1150.2 L185.6,1151.0 L186.9,1149.8 L188.2,1151.2 L189.5,1149.6 L190.0,1150.6 L190.8,1149.5 L192.1,1150.7 L193.4,1150.5 L194.7,1150.9 L196.0,1150.9 L197.3,1150.0 L198.6,1150.3 L199.9,1150.8 L200.0,1150.2 L201.2,1149.7 L202.5,1149.7 L203.8,1149.6 L205.1,1150.8 L206.4,1149.8 L207.7,1150.8 L209.0,1150.6 L210.0,1150.3 L211.6,1149.1 L212.9,1150.8 L214.2,1150.9 L215.5,1149.3 L216.8,1150.6 L218.1,1150.2 L219.4,1150.6 L220.0,1150.6 L220.7,1150.6 L222.0,1150.1 L223.3,1149.6 L224.6,1150.9 L225.9,1151.1 L227.2,1149.9 L228.5,1149.9 L229.8,1150.2 L230.0,1150.2 L231.1,1151.1 L232.4,1149.8 L233.7,1150.1 L235.0,1150.5 L236.3,1150.1 L237.6,1149.8 L238.9,1150.5 L240.0,1149.3 L241.5,1149.4 L242.8,1149.8 L244.1,1150.5 L245.4,1149.6 L246.7,1149.3 L248.0,1150.8 L249.3,1149.3 L250.0,1150.2 L250.6,1149.6 L251.9,1150.2 L253.2,1150.2 L254.5,1149.1 L255.8,1149.5 L257.1,1149.4 L258.4,1149.0 L259.7,1148.7 L260.0,1148.7 L261.0,1149.8 L262.3,1148.9 L263.6,1149.3 L264.9,1150.4 L266.2,1150.3 L267.5,1150.3 L268.0,1149.0 L268.8,1149.3 L270.1,1149.1 L271.4,1149.6 L272.7,1149.7 L274.0,1149.4 L275.3,1150.0 L276.6,1149.9 L277.9,1149.9 L278.0,1149.0 L279.2,1150.1 L280.5,1150.0 L281.8,1149.5 L283.1,1149.8 L284.4,1151.0 L285.7,1150.0 L287.0,1150.1 L288.0,1150.6 L289.6,1150.6 L290.9,1149.4 L292.2,1150.4 L293.5,1150.6 L294.8,1150.8 L296.1,1150.2 L297.4,1149.0 L298.0,1149.1 L298.7,1149.4 L300.0,1149.5 L301.3,1148.3 L302.6,1148.5 L303.9,1148.0 L305.0,1148.8 L306.5,1147.7 L307.8,1146.1 L309.1,1144.7 L310.0,1143.8 L310.4,1145.3 L311.7,1146.5 L313.0,1148.5 L314.0,1148.2 L315.6,1150.1 L316.9,1149.3 L318.2,1151.0 L319.5,1150.5 L320.0,1151.3 L320.8,1150.3 L322.1,1150.6 L323.4,1150.7 L324.7,1149.7 L326.0,1150.2 L327.3,1150.4 L328.6,1149.7 L329.9,1149.5 L330.0,1149.7 L331.2,1150.3 L332.5,1150.4 L333.8,1149.7 L335.1,1149.8 L336.4,1150.1 L337.7,1148.5 L339.0,1148.3 L340.3,1149.5 L341.6,1149.3 L342.9,1148.3 L344.2,1149.0 L345.0,1149.0 L345.5,1148.6 L346.8,1148.5 L348.1,1148.4 L349.4,1149.2 L350.7,1148.4 L352.0,1149.4 L353.3,1149.6 L354.6,1149.3 L355.9,1148.6 L357.2,1148.8 L358.5,1149.0 L359.8,1148.7 L360.0,1149.1 L361.1,1149.3 L362.4,1148.5 L363.7,1148.3 L365.0,1149.1 L366.3,1149.0 L367.6,1147.5 L368.9,1148.4 L370.2,1147.4 L371.5,1148.1 L372.0,1147.6 L372.8,1148.6 L374.1,1147.3 L375.4,1148.7 L376.7,1147.7 L378.0,1147.3 L378.0,1147.9 L379.3,1146.7 L380.6,1145.7 L381.9,1143.0 L382.0,1142.8 L383.2,1139.7 L384.5,1135.3 L385.0,1134.0 L385.8,1131.8 L387.1,1129.3 L388.0,1128.6 L388.4,1127.4 L389.7,1125.7 L391.0,1125.8 L392.0,1125.3 L393.6,1125.5 L394.9,1124.9 L395.0,1125.3 L396.2,1125.3 L397.5,1124.8 L398.0,1124.5 L398.8,1124.6 L400.1,1124.9 L401.4,1126.7 L402.7,1126.7 L404.0,1128.0 L405.0,1128.8 L406.6,1129.5 L407.9,1130.8 L409.2,1131.9 L410.0,1133.5 L410.5,1132.9 L411.8,1134.6 L413.1,1134.7 L414.4,1136.0 L415.7,1136.7 L417.0,1136.5 L417.0,1136.9 L418.3,1137.8 L419.6,1138.2 L420.9,1138.6 L422.2,1138.0 L423.5,1139.9 L424.8,1140.3 L425.0,1139.0 L426.1,1139.6 L427.4,1140.8 L428.7,1140.2 L430.0,1140.4 L431.3,1141.2 L432.0,1140.4 L432.6,1141.9 L433.9,1141.0 L435.2,1141.8 L436.5,1143.0 L437.8,1143.1 L438.0,1143.6 L439.1,1143.0 L440.4,1144.0 L441.7,1143.9 L443.0,1144.5 L444.3,1143.5 L445.6,1143.4 L446.9,1144.0 L448.0,1143.5 L449.5,1143.9 L450.8,1143.3 L452.1,1144.2 L453.4,1144.6 L454.7,1144.7 L456.0,1144.8 L457.3,1144.1 L458.0,1144.0 L458.6,1144.5 L459.9,1144.3 L461.2,1143.5 L462.5,1144.0 L463.8,1143.6 L465.1,1144.4 L466.4,1144.3 L467.7,1144.3 L469.0,1145.3 L470.0,1145.1 L471.6,1143.8 L472.9,1144.6 L474.2,1144.3 L475.5,1144.9 L476.8,1145.0 L478.1,1144.7 L479.4,1143.2 L480.0,1144.7 L480.7,1143.3 L482.0,1143.1 L483.3,1142.6 L484.6,1142.8 L485.9,1141.5 L486.0,1141.4 L487.2,1143.0 L488.5,1141.5 L489.8,1142.2 L491.1,1142.8 L492.4,1142.8 L493.7,1143.3 L495.0,1143.3 L495.0,1144.6 L496.3,1143.9 L497.6,1144.9 L498.9,1144.7 L500.0,1144.1 L501.5,1144.5 L502.8,1145.4 L504.1,1144.5 L505.4,1143.7 L506.7,1145.0 L508.0,1144.2 L509.3,1144.0 L510.0,1144.4 L510.6,1144.3 L511.9,1144.0 L513.2,1142.9 L514.5,1142.5 L515.8,1142.7 L517.1,1143.0 L518.4,1142.5 L519.7,1142.2 L520.0,1142.6 L521.0,1142.7 L522.3,1143.3 L523.6,1142.8 L524.9,1142.5 L526.2,1143.6 L527.5,1143.3 L528.8,1142.9 L530.0,1142.9 L531.4,1143.9 L532.7,1143.7 L534.0,1141.9 L535.3,1143.2 L536.6,1142.2 L537.9,1142.1 L539.2,1141.7 L540.0,1142.2 L540.5,1141.4 L541.8,1141.3 L543.1,1141.2 L544.4,1141.8 L545.7,1140.8 L547.0,1141.1 L548.3,1141.8 L549.6,1141.0 L550.0,1141.8 L550.9,1141.1 L552.2,1139.4 L553.5,1139.1 L554.8,1138.4 L556.0,1138.3 L557.4,1137.4 L558.7,1135.0 L560.0,1135.7 L561.3,1134.8 L562.0,1134.5 L562.6,1135.3 L563.9,1135.7 L565.2,1137.7 L566.5,1139.3 L567.0,1139.6 L567.8,1139.3 L569.1,1139.5 L570.4,1140.2 L571.7,1139.2 L573.0,1140.3 L574.3,1140.5 L575.0,1139.3 L575.6,1140.7 L576.9,1139.4 L578.2,1139.4 L579.5,1140.2 L580.8,1141.1 L582.1,1141.2 L583.4,1140.5 L584.7,1141.0 L585.0,1140.0 L586.0,1140.6 L587.3,1139.8 L588.6,1139.8 L589.9,1141.0 L591.2,1140.8 L592.0,1140.4 L592.5,1139.9 L593.8,1140.0 L595.1,1138.0 L596.4,1138.1 L597.0,1138.2 L597.7,1137.3 L599.0,1139.6 L600.3,1139.8 L601.6,1141.7 L602.0,1141.8 L602.9,1141.4 L604.2,1141.2 L605.5,1139.8 L606.8,1139.2 L608.0,1139.5 L609.4,1139.6 L610.7,1140.8 L612.0,1140.9 L613.3,1141.2 L614.6,1141.3 L615.9,1141.7 L617.2,1141.3 L618.0,1142.1 L618.5,1142.2 L619.8,1141.2 L621.1,1142.0 L622.4,1141.5 L623.7,1141.2 L625.0,1140.8 L626.3,1141.4 L627.6,1140.3 L628.9,1139.8 L630.0,1139.6 L631.5,1141.0 L632.8,1140.5 L634.1,1139.9 L635.4,1140.1 L636.7,1140.7 L638.0,1140.8 L639.3,1139.7 L640.0,1140.6 L640.6,1140.6 L641.9,1140.8 L643.2,1139.7 L644.5,1139.3 L645.8,1140.1 L647.1,1139.1 L648.4,1138.2 L649.7,1138.3 L650.0,1138.8 L651.0,1137.3 L652.3,1135.5 L653.6,1134.3 L654.9,1131.7 L656.0,1131.2 L657.5,1131.5 L658.8,1133.7 L660.0,1133.7 L661.4,1134.4 L662.7,1135.0 L664.0,1136.2 L665.0,1136.2 L666.6,1136.8 L667.9,1134.5 L669.2,1134.1 L670.0,1133.0 L670.5,1131.8 L671.8,1130.5 L673.1,1129.3 L674.0,1129.0 L674.4,1128.9 L675.7,1130.2 L677.0,1130.5 L678.0,1131.2 L679.6,1133.1 L680.9,1133.7 L682.2,1135.1 L683.0,1134.7 L683.5,1135.5 L684.8,1136.2 L686.1,1135.4 L687.4,1135.4 L688.7,1136.4 L690.0,1135.4 L690.0,1136.1 L691.3,1137.0 L692.6,1136.0 L693.9,1136.9 L695.2,1136.4 L696.5,1137.3 L697.8,1137.2 L699.1,1135.9 L700.0,1137.5 L700.4,1136.2 L701.7,1137.5 L703.0,1136.6 L704.3,1136.0 L705.6,1137.5 L706.9,1137.0 L708.2,1136.4 L709.5,1137.5 L710.0,1136.4 L710.8,1136.5 L712.1,1136.8 L713.4,1136.7 L714.7,1136.3 L716.0,1136.6 L717.3,1135.9 L718.6,1136.0 L719.9,1134.8 L720.0,1136.2 L721.2,1134.6 L722.5,1135.6 L723.8,1135.4 L725.1,1134.7 L726.4,1136.0 L727.7,1135.6 L729.0,1134.8 L730.0,1135.6 L731.6,1134.2 L732.9,1133.8 L734.2,1133.7 L735.5,1132.3 L736.8,1131.9 L737.0,1132.2 L738.1,1130.5 L739.4,1129.3 L740.0,1128.5 L740.7,1130.2 L742.0,1130.5 L743.3,1131.1 L744.6,1132.5 L745.0,1131.7 L745.9,1132.4 L747.2,1133.1 L748.5,1132.8 L749.8,1132.3 L751.1,1132.8 L752.4,1133.3 L753.7,1132.0 L755.0,1133.2 L755.0,1132.1 L756.3,1132.7 L757.6,1132.0 L758.9,1132.7 L760.2,1133.6 L761.5,1132.9 L762.8,1133.5 L764.1,1133.3 L765.0,1132.6 L765.4,1133.4 L766.7,1133.2 L768.0,1134.8 L769.3,1134.8 L770.6,1135.2 L771.9,1134.9 L773.2,1135.8 L774.5,1135.8 L775.0,1135.0 L775.8,1135.2 L777.1,1134.2 L778.0,1133.9 L778.4,1133.0 L779.7,1129.5 L780.0,1128.3" stroke="#000" stroke-width="1.7" fill="none" stroke-dasharray="1.8 1.8"/>
<text x="3" y="1310.5" font-size="49.5">C</text>
<path d="M96,1338.2 V1793 M95,1792 H777" stroke="#000" stroke-width="2.2" fill="none"/>
<path d="M86.5,1792 H96 M86.5,1641 H96 M86.5,1490.5 H96 M86.5,1339.2 H96 M96.0,1792 V1801.5 M141.3,1792 V1797 M186.7,1792 V1797 M232.0,1792 V1797 M277.3,1792 V1797 M322.7,1792 V1801.5 M368.0,1792 V1797 M413.3,1792 V1797 M458.7,1792 V1797 M504.0,1792 V1797 M549.3,1792 V1801.5 M594.7,1792 V1797 M640.0,1792 V1797 M685.3,1792 V1797 M730.7,1792 V1797 M776.0,1792 V1801.5" stroke="#000" stroke-width="2.2" fill="none"/>
<text x="85.7" y="1801.6" font-size="27" text-anchor="end">0</text>
<text x="85.7" y="1650.6" font-size="27" text-anchor="end">2</text>
<text x="85.7" y="1500.1" font-size="27" text-anchor="end">4</text>
<text x="85.7" y="1348.8" font-size="27" text-anchor="end">6</text>
<text x="96.0" y="1827" font-size="27" text-anchor="middle">25</text>
<text x="322.7" y="1827" font-size="27" text-anchor="middle">30</text>
<text x="549.3" y="1827" font-size="27" text-anchor="middle">35</text>
<text x="776.0" y="1827" font-size="27" text-anchor="middle">40</text>
<text x="338.5" y="1880.5" font-size="38">Time (mins)</text>
<text transform="translate(46.3,1564.6) rotate(-90)" font-size="38" text-anchor="middle">mAU (342nm)</text>
<path d="M574.9,1347.9 H613" stroke="#000" stroke-width="2"/>
<path d="M574.9,1387.2 H613" stroke="#000" stroke-width="2" stroke-dasharray="1.6 1.6"/>
<text x="634" y="1357.4" font-size="28" letter-spacing="-0.2" font-style="italic">P. mirab. +PQS</text>
<text x="634" y="1396.7" font-size="28" letter-spacing="-0.2" font-style="italic">P. mirab. -PQS</text>
<path d="M96.0,1515.6 L97.0,1517.6 L97.5,1519.3 L99.0,1526.0 L100.5,1535.2 L101.0,1538.0 L102.0,1542.6 L103.5,1548.4 L104.0,1549.9 L105.0,1552.9 L106.5,1555.7 L108.0,1560.2 L109.5,1565.3 L111.0,1569.5 L112.5,1572.6 L114.0,1575.4 L115.5,1576.9 L116.0,1578.0 L117.0,1578.9 L118.5,1580.1 L120.0,1581.8 L121.5,1583.9 L123.0,1583.8 L124.5,1586.5 L126.0,1587.2 L127.5,1587.1 L129.0,1586.6 L130.5,1585.7 L132.0,1586.4 L133.5,1586.7 L135.0,1587.3 L136.5,1588.3 L138.0,1589.1 L139.5,1588.8 L141.0,1591.3 L142.5,1591.8 L144.0,1593.0 L145.5,1592.3 L147.0,1594.3 L148.5,1595.4 L150.0,1595.7 L151.5,1596.9 L153.0,1599.1 L154.5,1599.2 L155.0,1600.2 L156.0,1598.4 L157.5,1596.7 L159.0,1594.9 L160.5,1593.5 L162.0,1593.2 L163.5,1594.1 L165.0,1597.6 L166.0,1599.7 L166.5,1601.5 L168.0,1603.9 L169.5,1607.1 L170.0,1607.4 L171.0,1609.3 L172.5,1611.6 L174.0,1611.2 L175.5,1613.6 L176.0,1613.9 L177.0,1614.1 L178.5,1613.6 L180.0,1616.1 L181.5,1615.7 L182.0,1616.7 L183.0,1616.3 L184.5,1618.1 L186.0,1618.2 L187.5,1617.1 L189.0,1617.7 L190.0,1620.0 L190.5,1618.8 L192.0,1619.4 L193.5,1619.0 L195.0,1621.4 L196.5,1622.4 L198.0,1623.2 L199.5,1621.5 L201.0,1623.9 L202.5,1622.2 L204.0,1623.1 L205.5,1623.5 L206.0,1624.2 L207.0,1624.3 L208.5,1624.7 L210.0,1625.1 L211.5,1626.7 L213.0,1625.0 L214.0,1625.1 L214.5,1627.1 L216.0,1625.9 L217.5,1627.4 L219.0,1628.5 L220.5,1626.3 L222.0,1628.8 L223.5,1627.0 L225.0,1628.8 L226.5,1629.0 L228.0,1630.2 L229.5,1630.7 L230.0,1628.6 L231.0,1628.9 L232.5,1630.7 L234.0,1631.2 L235.5,1629.7 L237.0,1631.2 L238.0,1630.0 L238.5,1630.9 L240.0,1632.6 L241.5,1632.3 L243.0,1631.9 L244.5,1631.3 L246.0,1632.9 L247.5,1632.5 L249.0,1630.6 L250.5,1633.0 L252.0,1633.2 L253.5,1633.8 L255.0,1634.8 L256.5,1635.1 L258.0,1632.8 L259.0,1630.2 L259.5,1628.8 L261.0,1622.8 L261.2,1621.5 L262.5,1597.5 L262.7,1592.0 L264.0,1528.4 L264.2,1518.0 L265.4,1458.8 L266.4,1414.4 L267.0,1396.1 L267.6,1387.4 L268.5,1402.4 L268.9,1414.4 L269.8,1458.8 L271.3,1518.0 L273.0,1566.4 L273.5,1577.0 L274.5,1593.9 L275.0,1600.0 L276.0,1608.6 L276.8,1614.0 L277.5,1618.7 L279.0,1626.0 L280.5,1627.6 L282.0,1627.8 L283.5,1628.2 L285.0,1629.0 L286.0,1629.2 L286.5,1628.9 L288.0,1631.6 L289.5,1631.4 L290.0,1630.9 L291.0,1633.0 L292.5,1632.4 L294.0,1632.7 L295.5,1633.7 L297.0,1635.3 L298.0,1634.3 L298.5,1634.4 L300.0,1636.5 L301.5,1635.6 L302.0,1636.3 L303.0,1637.1 L304.5,1635.7 L306.0,1636.7 L307.5,1635.5 L309.0,1637.9 L310.0,1637.3 L310.5,1636.4 L312.0,1632.6 L312.4,1632.6 L313.5,1628.5 L315.0,1624.8 L316.5,1626.3 L317.0,1624.5 L318.0,1627.8 L319.0,1632.3 L319.5,1633.6 L321.0,1636.5 L322.5,1639.4 L324.0,1638.1 L325.5,1639.8 L327.0,1637.3 L328.0,1639.7 L328.5,1639.2 L330.0,1637.6 L331.5,1640.0 L332.0,1638.8 L333.0,1639.8 L334.5,1639.9 L336.0,1638.8 L337.5,1641.1 L339.0,1641.7 L340.0,1640.7 L340.5,1640.0 L342.0,1638.7 L343.0,1636.8 L343.5,1636.4 L345.0,1634.2 L346.5,1633.4 L348.0,1635.5 L349.5,1631.8 L350.0,1630.4 L351.0,1630.2 L352.5,1631.5 L353.0,1630.5 L354.0,1633.5 L355.0,1633.7 L355.5,1633.6 L357.0,1630.8 L358.5,1634.2 L360.0,1636.2 L361.5,1637.4 L363.0,1637.8 L364.0,1636.2 L364.5,1637.0 L366.0,1636.6 L367.0,1635.4 L367.5,1635.1 L369.0,1631.7 L370.5,1630.6 L372.0,1632.4 L373.5,1632.4 L375.0,1630.4 L376.0,1631.2 L376.5,1631.3 L378.0,1632.9 L379.5,1632.0 L380.0,1631.9 L381.0,1631.5 L382.5,1633.2 L384.0,1634.7 L385.5,1635.5 L387.0,1632.9 L388.0,1634.5 L388.5,1633.1 L390.0,1630.0 L391.5,1618.3 L392.0,1614.0 L393.0,1606.6 L394.0,1600.0 L394.5,1596.9 L396.0,1590.8 L397.5,1590.1 L398.4,1589.0 L399.0,1586.3 L400.4,1585.1 L402.0,1582.0 L403.0,1584.4 L403.5,1583.1 L405.0,1581.3 L405.6,1580.8 L406.5,1581.5 L408.0,1582.5 L409.5,1585.6 L411.0,1589.7 L412.5,1594.7 L414.0,1599.3 L415.5,1603.2 L417.0,1605.4 L418.0,1608.0 L418.5,1609.0 L420.0,1610.7 L421.5,1613.2 L422.0,1614.8 L423.0,1616.3 L424.5,1617.0 L426.0,1619.0 L427.5,1619.0 L429.0,1621.4 L430.0,1621.2 L430.5,1621.8 L432.0,1623.5 L433.5,1624.6 L434.0,1623.7 L435.0,1625.6 L436.0,1627.1 L436.5,1627.0 L438.0,1627.3 L439.5,1628.4 L440.0,1627.5 L441.0,1628.9 L442.5,1629.9 L444.0,1628.6 L445.5,1629.0 L447.0,1630.3 L448.0,1631.9 L448.5,1630.9 L450.0,1632.6 L451.5,1631.3 L452.0,1631.4 L453.0,1633.3 L454.5,1631.9 L456.0,1632.4 L457.5,1633.5 L459.0,1632.3 L460.0,1631.5 L460.5,1633.4 L462.0,1633.4 L463.5,1634.2 L464.0,1633.8 L465.0,1634.7 L466.5,1633.8 L468.0,1634.6 L469.5,1633.4 L471.0,1633.4 L472.0,1634.5 L472.5,1635.3 L474.0,1636.4 L475.5,1634.8 L476.0,1634.3 L477.0,1635.2 L478.5,1635.9 L480.0,1635.3 L481.5,1636.0 L483.0,1635.5 L484.0,1635.1 L484.5,1635.9 L486.0,1636.1 L487.5,1635.4 L488.0,1633.6 L489.0,1634.6 L490.5,1635.3 L492.0,1635.1 L493.5,1634.6 L495.0,1636.1 L496.0,1634.1 L496.5,1635.6 L498.0,1634.5 L499.5,1635.7 L500.0,1637.8 L501.0,1637.9 L502.5,1636.6 L504.0,1635.9 L505.5,1638.3 L507.0,1638.3 L508.0,1636.6 L508.5,1635.6 L510.0,1635.6 L511.5,1637.6 L512.0,1635.1 L513.0,1636.3 L514.5,1636.5 L516.0,1636.8 L517.5,1636.6 L519.0,1636.5 L520.0,1637.0 L520.5,1638.3 L522.0,1637.4 L523.5,1638.3 L524.0,1637.5 L525.0,1638.0 L526.5,1636.0 L528.0,1635.6 L529.5,1637.3 L531.0,1636.7 L532.0,1635.2 L532.5,1636.0 L534.0,1634.4 L535.0,1634.1 L535.5,1633.2 L537.0,1633.5 L538.0,1635.4 L538.5,1636.4 L540.0,1634.8 L541.5,1635.1 L542.0,1633.8 L543.0,1634.6 L544.5,1634.3 L546.0,1636.8 L547.5,1636.9 L549.0,1636.3 L550.0,1635.6 L550.5,1635.2 L552.0,1635.0 L553.5,1635.3 L554.0,1636.8 L555.0,1634.8 L556.5,1637.5 L557.0,1636.0 L558.0,1635.5 L559.5,1635.3 L560.0,1633.9 L561.0,1631.5 L562.0,1628.0 L562.5,1626.2 L564.0,1621.0 L565.5,1618.6 L566.5,1615.8 L567.0,1615.5 L568.5,1617.0 L570.0,1617.7 L570.5,1617.4 L571.5,1621.2 L572.0,1623.0 L573.0,1627.1 L574.0,1630.6 L574.5,1631.8 L576.0,1632.3 L577.5,1632.6 L578.0,1631.7 L579.0,1631.0 L580.5,1631.8 L582.0,1633.8 L583.5,1633.4 L585.0,1634.6 L586.0,1635.0 L586.5,1634.9 L588.0,1634.6 L589.5,1633.4 L590.0,1635.2 L591.0,1634.5 L592.5,1635.7 L594.0,1634.9 L595.5,1635.1 L597.0,1635.4 L598.0,1634.3 L598.5,1636.1 L600.0,1635.9 L601.5,1634.6 L602.0,1634.6 L603.0,1634.8 L604.5,1635.5 L606.0,1634.6 L607.5,1633.7 L609.0,1633.2 L610.2,1634.7 L612.0,1634.1 L613.5,1634.7 L615.0,1635.3 L616.5,1635.1 L616.6,1633.8 L618.0,1635.8 L619.5,1636.1 L621.0,1634.2 L622.5,1634.4 L623.0,1634.4 L624.0,1635.1 L625.5,1636.4 L627.0,1635.1 L628.5,1634.0 L629.3,1635.5 L630.0,1635.5 L631.5,1634.6 L633.0,1634.8 L634.5,1635.8 L635.7,1636.5 L637.5,1636.1 L639.0,1634.2 L640.5,1634.0 L642.0,1636.1 L643.5,1634.5 L645.0,1633.8 L646.5,1634.0 L648.0,1635.5 L648.4,1636.1 L649.5,1635.7 L651.0,1633.0 L652.5,1634.5 L654.0,1633.4 L654.7,1633.6 L655.5,1633.6 L657.0,1633.0 L657.9,1632.5 L658.5,1631.9 L660.0,1625.7 L661.5,1620.2 L662.8,1616.7 L664.5,1620.2 L665.3,1620.2 L666.0,1621.2 L667.5,1623.3 L668.5,1624.9 L669.0,1624.1 L670.5,1624.9 L671.7,1627.7 L673.5,1628.3 L674.2,1626.5 L675.0,1626.1 L676.3,1621.3 L678.0,1615.0 L678.5,1615.1 L679.5,1613.6 L680.6,1613.7 L681.0,1612.1 L682.5,1615.7 L682.7,1615.7 L684.0,1619.9 L685.4,1622.0 L687.0,1625.5 L688.5,1626.1 L689.7,1627.4 L691.5,1628.0 L693.0,1626.7 L694.5,1628.4 L695.0,1628.9 L696.0,1629.8 L697.5,1628.9 L699.0,1628.1 L700.5,1629.6 L701.3,1627.5 L702.0,1629.3 L703.5,1630.4 L705.0,1630.2 L705.6,1630.7 L706.5,1632.0 L708.0,1631.9 L709.5,1628.9 L709.8,1631.2 L711.0,1629.3 L712.5,1629.1 L714.0,1629.6 L715.5,1629.4 L717.0,1630.0 L718.3,1629.9 L720.0,1628.6 L721.5,1627.8 L722.5,1629.1 L723.0,1628.0 L724.5,1628.1 L726.0,1626.4 L726.8,1628.0 L727.5,1626.9 L729.0,1626.3 L730.5,1627.9 L731.0,1626.7 L732.0,1627.9 L733.5,1628.5 L735.0,1627.6 L735.2,1629.8 L736.5,1626.8 L738.0,1623.1 L738.4,1623.0 L739.5,1623.1 L741.0,1622.3 L742.5,1622.3 L742.7,1620.8 L744.0,1623.5 L745.5,1622.9 L747.0,1623.3 L748.0,1622.0 L748.5,1621.8 L750.0,1624.8 L751.5,1622.6 L753.0,1622.8 L754.3,1622.9 L756.0,1622.7 L757.5,1623.7 L759.0,1623.4 L760.5,1623.9 L760.7,1621.3 L762.0,1623.4 L763.5,1622.5 L765.0,1622.4 L766.5,1624.4 L767.0,1622.8 L768.0,1622.0 L769.5,1622.1 L771.0,1623.8 L772.3,1623.6 L774.0,1623.7 L775.5,1625.8" stroke="#000" stroke-width="2.3" fill="none" stroke-linejoin="round"/>
<path d="M96.0,1604.0 L97.3,1610.7 L98.0,1614.0 L98.6,1616.6 L99.9,1621.9 L101.0,1626.0 L102.5,1631.4 L103.8,1635.6 L104.0,1635.7 L105.1,1639.0 L106.4,1640.3 L107.7,1643.5 L108.0,1644.5 L109.0,1646.3 L110.3,1647.8 L111.6,1649.4 L112.0,1651.6 L112.9,1653.2 L114.2,1654.1 L115.5,1654.3 L116.8,1656.7 L118.0,1657.5 L119.4,1657.9 L120.7,1659.7 L122.0,1660.1 L123.3,1661.2 L124.0,1661.6 L124.6,1659.8 L125.9,1661.6 L127.2,1660.9 L128.0,1659.5 L128.5,1659.5 L129.8,1656.3 L131.0,1656.0 L132.4,1658.6 L133.7,1659.3 L135.0,1660.0 L135.0,1659.0 L136.3,1661.4 L137.6,1663.3 L138.9,1664.5 L140.0,1664.7 L141.5,1666.8 L142.8,1666.6 L144.1,1667.1 L145.4,1669.5 L146.7,1670.6 L148.0,1668.9 L148.0,1668.9 L149.3,1670.3 L150.6,1669.8 L151.9,1671.9 L153.2,1671.7 L154.5,1671.6 L155.0,1673.4 L155.8,1673.1 L157.1,1673.1 L158.4,1674.5 L159.7,1676.8 L160.0,1676.5 L161.0,1679.0 L162.3,1677.9 L163.6,1679.6 L164.9,1680.4 L166.0,1682.7 L167.5,1684.0 L168.8,1684.7 L170.1,1683.9 L171.4,1686.7 L172.0,1684.6 L172.7,1686.0 L174.0,1688.4 L175.3,1689.1 L176.6,1686.9 L177.9,1689.5 L179.2,1688.6 L180.0,1690.2 L180.5,1689.5 L181.8,1689.9 L183.1,1691.6 L184.4,1692.4 L185.7,1692.8 L187.0,1693.5 L188.0,1693.5 L189.6,1696.0 L190.9,1694.8 L192.2,1697.3 L193.5,1697.4 L194.8,1698.1 L196.0,1696.6 L197.4,1698.9 L198.7,1700.2 L200.0,1699.1 L201.3,1700.6 L202.6,1699.5 L203.9,1699.1 L204.0,1700.9 L205.2,1701.3 L206.5,1699.5 L207.8,1702.1 L209.1,1701.5 L210.0,1703.1 L210.4,1701.7 L211.7,1701.7 L213.0,1704.2 L214.3,1703.8 L215.6,1704.9 L216.0,1702.6 L216.9,1704.9 L218.2,1705.4 L219.5,1704.6 L220.8,1704.3 L222.1,1704.5 L223.4,1707.0 L224.0,1706.7 L224.7,1707.3 L226.0,1705.8 L227.3,1707.4 L228.6,1707.0 L229.9,1707.6 L231.2,1708.1 L232.0,1706.6 L232.5,1709.2 L233.8,1707.9 L235.1,1708.6 L236.4,1707.2 L237.7,1707.5 L239.0,1710.3 L240.0,1708.1 L241.6,1709.7 L242.9,1708.7 L244.2,1709.7 L245.5,1709.5 L246.8,1710.3 L248.0,1709.3 L249.4,1707.6 L250.7,1708.0 L252.0,1710.0 L253.3,1709.2 L254.6,1709.8 L255.9,1710.7 L256.0,1709.6 L257.2,1710.6 L258.5,1710.1 L259.8,1709.6 L261.1,1709.0 L262.4,1710.9 L263.7,1710.0 L264.0,1708.6 L265.0,1710.3 L266.0,1713.2 L267.6,1710.3 L268.9,1711.1 L270.0,1709.7 L271.5,1711.1 L272.8,1711.6 L274.0,1709.7 L275.4,1712.5 L276.7,1711.4 L278.0,1713.4 L278.0,1711.6 L279.3,1712.6 L280.6,1712.1 L281.9,1712.0 L282.0,1713.0 L283.2,1714.5 L284.5,1713.0 L285.8,1712.5 L286.0,1712.1 L287.1,1711.8 L288.4,1713.7 L289.7,1713.9 L290.0,1715.1 L291.0,1714.0 L292.3,1714.0 L293.6,1716.5 L294.0,1715.9 L294.9,1713.6 L296.2,1714.2 L297.5,1713.2 L298.0,1715.1 L298.8,1713.6 L300.1,1713.7 L301.4,1714.5 L302.0,1715.0 L302.7,1714.7 L304.0,1714.2 L305.3,1715.7 L306.0,1714.7 L306.6,1715.4 L307.9,1713.6 L309.2,1715.1 L310.0,1715.0 L310.5,1713.9 L311.8,1713.5 L313.1,1713.3 L314.0,1715.1 L314.4,1715.1 L315.7,1714.1 L317.0,1716.0 L318.0,1717.4 L319.6,1717.1 L320.9,1716.6 L322.0,1717.3 L323.5,1717.2 L324.8,1716.0 L326.0,1715.7 L327.4,1716.0 L328.7,1714.0 L330.0,1714.1 L330.0,1713.8 L331.3,1716.6 L332.6,1716.4 L333.9,1715.5 L334.0,1714.6 L335.2,1713.9 L336.5,1715.4 L337.8,1713.9 L338.0,1715.4 L339.1,1713.3 L340.4,1711.2 L341.7,1711.6 L342.0,1709.6 L343.0,1710.5 L344.3,1710.9 L345.6,1709.4 L346.0,1709.5 L346.9,1710.9 L348.2,1710.4 L349.5,1710.1 L350.0,1708.7 L350.8,1710.9 L352.1,1710.0 L353.4,1711.9 L354.0,1711.3 L354.7,1711.1 L356.0,1712.4 L357.3,1711.7 L358.0,1712.7 L358.6,1714.5 L359.9,1713.5 L361.2,1713.7 L362.0,1712.8 L362.5,1713.9 L363.8,1711.9 L365.1,1712.9 L366.0,1710.3 L366.4,1711.0 L367.7,1710.7 L369.0,1709.8 L370.0,1709.8 L371.6,1709.3 L372.9,1707.9 L374.0,1709.5 L375.5,1710.5 L376.8,1708.4 L378.0,1710.6 L379.4,1709.7 L380.7,1710.3 L382.0,1709.9 L382.0,1710.6 L383.3,1710.2 L384.6,1710.1 L385.9,1709.9 L386.0,1710.7 L387.2,1707.4 L388.0,1704.0 L388.5,1700.4 L389.8,1685.9 L390.0,1684.0 L391.1,1673.9 L392.0,1668.0 L392.4,1666.5 L393.7,1662.5 L394.0,1661.9 L395.0,1662.0 L396.3,1660.4 L397.6,1660.0 L398.0,1661.4 L398.9,1660.5 L400.2,1658.9 L401.0,1659.4 L401.5,1657.9 L402.8,1660.2 L404.0,1662.2 L405.4,1663.3 L406.7,1665.1 L407.0,1664.6 L408.0,1668.2 L409.0,1672.0 L410.6,1676.2 L411.9,1679.3 L412.0,1680.0 L413.2,1682.7 L414.5,1684.5 L415.8,1687.8 L416.0,1687.3 L417.1,1689.2 L418.4,1691.4 L419.7,1693.8 L420.0,1694.6 L421.0,1695.6 L422.3,1696.9 L423.6,1697.4 L424.0,1697.9 L424.9,1699.0 L426.2,1699.4 L427.5,1701.7 L428.0,1701.9 L428.8,1700.9 L430.1,1701.2 L431.4,1703.1 L432.0,1702.0 L432.7,1704.7 L434.0,1705.5 L435.3,1703.3 L436.0,1703.8 L436.6,1706.3 L437.9,1704.6 L439.2,1705.4 L440.0,1707.2 L440.5,1706.4 L441.8,1707.3 L443.1,1707.6 L444.0,1707.1 L444.4,1708.0 L445.7,1709.5 L447.0,1709.6 L448.0,1710.0 L449.6,1709.1 L450.9,1709.2 L452.0,1708.0 L453.5,1709.4 L454.8,1709.7 L456.0,1710.2 L457.4,1710.1 L458.7,1712.1 L460.0,1709.5 L460.0,1712.5 L461.3,1711.4 L462.6,1712.1 L463.9,1712.1 L464.0,1712.0 L465.2,1712.4 L466.5,1711.2 L467.8,1711.6 L468.0,1712.3 L469.1,1712.4 L470.4,1712.4 L471.7,1713.3 L472.0,1712.6 L473.0,1712.1 L474.3,1712.1 L475.6,1712.3 L476.0,1712.5 L476.9,1712.1 L478.2,1713.6 L479.5,1714.1 L480.0,1712.3 L480.8,1714.1 L482.1,1715.3 L483.4,1715.0 L484.0,1713.4 L484.7,1713.3 L486.0,1714.0 L487.3,1714.4 L488.0,1713.8 L488.6,1715.5 L489.9,1714.7 L491.2,1713.2 L492.0,1713.2 L492.5,1714.4 L493.8,1714.8 L495.1,1715.6 L496.0,1716.3 L496.4,1714.7 L497.7,1714.8 L499.0,1715.4 L500.0,1714.3 L501.6,1714.0 L502.9,1715.5 L504.0,1713.5 L505.5,1715.9 L506.8,1714.2 L508.0,1717.2 L509.4,1715.4 L510.7,1717.1 L512.0,1717.7 L512.0,1718.2 L513.3,1716.4 L514.6,1717.2 L515.9,1715.5 L516.0,1717.4 L517.2,1715.3 L518.5,1716.5 L519.8,1716.1 L520.0,1717.6 L521.1,1717.8 L522.4,1718.0 L523.7,1716.8 L524.0,1716.1 L525.0,1715.6 L526.3,1712.4 L527.0,1709.7 L527.6,1709.6 L528.9,1708.5 L530.0,1710.3 L531.5,1711.4 L532.8,1709.9 L534.0,1713.4 L535.4,1711.9 L536.7,1711.3 L538.0,1712.0 L538.0,1713.8 L539.3,1713.2 L540.6,1713.1 L541.9,1713.9 L542.0,1713.1 L543.2,1714.6 L544.5,1712.9 L545.8,1715.4 L546.0,1713.6 L547.1,1715.3 L548.4,1715.0 L549.7,1715.1 L550.0,1714.6 L551.0,1714.0 L552.3,1714.7 L553.6,1714.6 L554.0,1713.6 L554.9,1712.4 L556.2,1710.9 L557.5,1709.5 L558.0,1709.1 L558.8,1707.0 L560.1,1705.8 L561.4,1703.7 L562.0,1701.5 L562.7,1701.0 L564.0,1698.4 L565.0,1696.1 L566.6,1694.4 L567.0,1694.1 L567.9,1694.3 L569.0,1697.8 L570.5,1706.4 L571.0,1708.2 L571.8,1708.6 L573.1,1708.1 L574.0,1710.4 L574.4,1708.8 L575.7,1710.1 L577.0,1707.9 L578.0,1707.5 L579.6,1710.1 L580.9,1708.6 L582.0,1708.7 L583.5,1709.2 L584.8,1710.1 L586.0,1711.6 L587.4,1711.4 L588.7,1709.4 L590.0,1712.0 L590.0,1711.5 L591.3,1712.6 L592.6,1710.3 L593.9,1710.1 L594.0,1713.1 L595.2,1712.9 L596.5,1710.7 L597.8,1713.1 L598.0,1710.6 L599.1,1712.7 L600.4,1712.0 L601.7,1711.8 L602.0,1713.1 L603.0,1712.3 L604.3,1710.3 L605.6,1709.4 L606.0,1711.1 L606.9,1709.5 L608.2,1709.5 L609.5,1712.2 L610.8,1710.6 L612.1,1712.8 L612.4,1710.4 L613.4,1711.8 L614.7,1711.9 L616.0,1712.0 L617.3,1710.6 L618.6,1712.3 L618.7,1710.7 L619.9,1713.1 L621.2,1712.4 L622.5,1712.5 L623.8,1714.0 L624.0,1714.4 L625.1,1712.3 L626.4,1712.2 L627.7,1712.7 L629.0,1712.8 L629.3,1712.0 L630.3,1710.0 L631.6,1710.5 L632.9,1711.7 L634.2,1711.0 L635.5,1711.0 L635.7,1710.4 L636.8,1709.4 L638.1,1712.3 L639.4,1711.0 L640.7,1713.0 L642.0,1711.9 L642.0,1713.3 L643.3,1712.8 L644.6,1712.1 L645.9,1711.2 L647.2,1710.2 L648.4,1710.6 L649.8,1709.6 L651.1,1707.7 L652.4,1708.2 L653.7,1708.4 L654.7,1706.0 L656.3,1704.7 L657.6,1701.5 L657.9,1701.2 L658.9,1697.6 L660.2,1694.0 L660.7,1693.4 L661.5,1691.6 L662.8,1694.1 L662.8,1692.1 L664.1,1696.5 L665.3,1699.2 L666.7,1702.2 L668.0,1702.5 L668.5,1703.5 L669.3,1702.6 L670.6,1702.6 L671.7,1700.1 L673.2,1697.8 L674.5,1694.8 L674.9,1693.0 L675.8,1691.1 L677.1,1687.9 L678.0,1686.2 L678.4,1687.2 L679.7,1689.6 L681.0,1692.2 L681.2,1692.5 L682.3,1695.1 L683.6,1698.0 L684.4,1699.8 L684.9,1700.4 L686.2,1701.8 L687.5,1701.8 L688.6,1701.0 L690.1,1704.0 L691.4,1704.3 L692.7,1704.0 L694.0,1704.2 L695.0,1703.0 L696.6,1704.4 L697.9,1705.7 L699.2,1704.2 L700.5,1704.1 L701.3,1703.7 L701.8,1706.5 L703.1,1705.1 L704.4,1703.2 L705.7,1703.1 L707.0,1705.4 L707.7,1705.3 L708.3,1704.9 L709.6,1704.5 L710.9,1704.1 L712.2,1703.5 L713.5,1705.0 L714.0,1704.6 L714.8,1704.8 L716.1,1704.2 L717.4,1702.8 L718.7,1703.8 L720.0,1702.0 L720.4,1704.3 L721.3,1701.6 L722.6,1701.3 L723.9,1701.5 L725.2,1701.6 L726.5,1702.0 L726.8,1700.2 L727.8,1703.1 L729.1,1702.3 L730.4,1703.9 L731.7,1702.9 L733.0,1703.5 L733.1,1702.9 L734.3,1702.1 L735.6,1700.7 L736.3,1697.9 L736.9,1697.3 L738.2,1695.5 L739.5,1694.3 L739.5,1693.2 L740.8,1695.2 L742.1,1695.2 L742.7,1695.8 L743.4,1697.7 L744.7,1697.7 L746.0,1697.7 L747.3,1699.1 L748.0,1699.7 L748.6,1700.1 L749.9,1698.6 L751.2,1698.4 L752.5,1699.6 L753.8,1700.8 L754.3,1698.4 L755.1,1699.4 L756.4,1699.6 L757.7,1699.2 L759.0,1699.3 L760.3,1699.0 L760.7,1697.5 L761.6,1697.6 L762.9,1699.0 L764.2,1699.6 L765.5,1698.2 L766.8,1699.9 L767.0,1698.7 L768.1,1699.7 L769.4,1699.4 L770.7,1698.0 L771.3,1698.0 L772.0,1698.5 L773.3,1698.3 L774.6,1700.6 L775.5,1699.8 L775.9,1695.0 L776.5,1679.7" stroke="#000" stroke-width="1.7" fill="none" stroke-dasharray="1.8 1.8"/>
</svg></body></html>
